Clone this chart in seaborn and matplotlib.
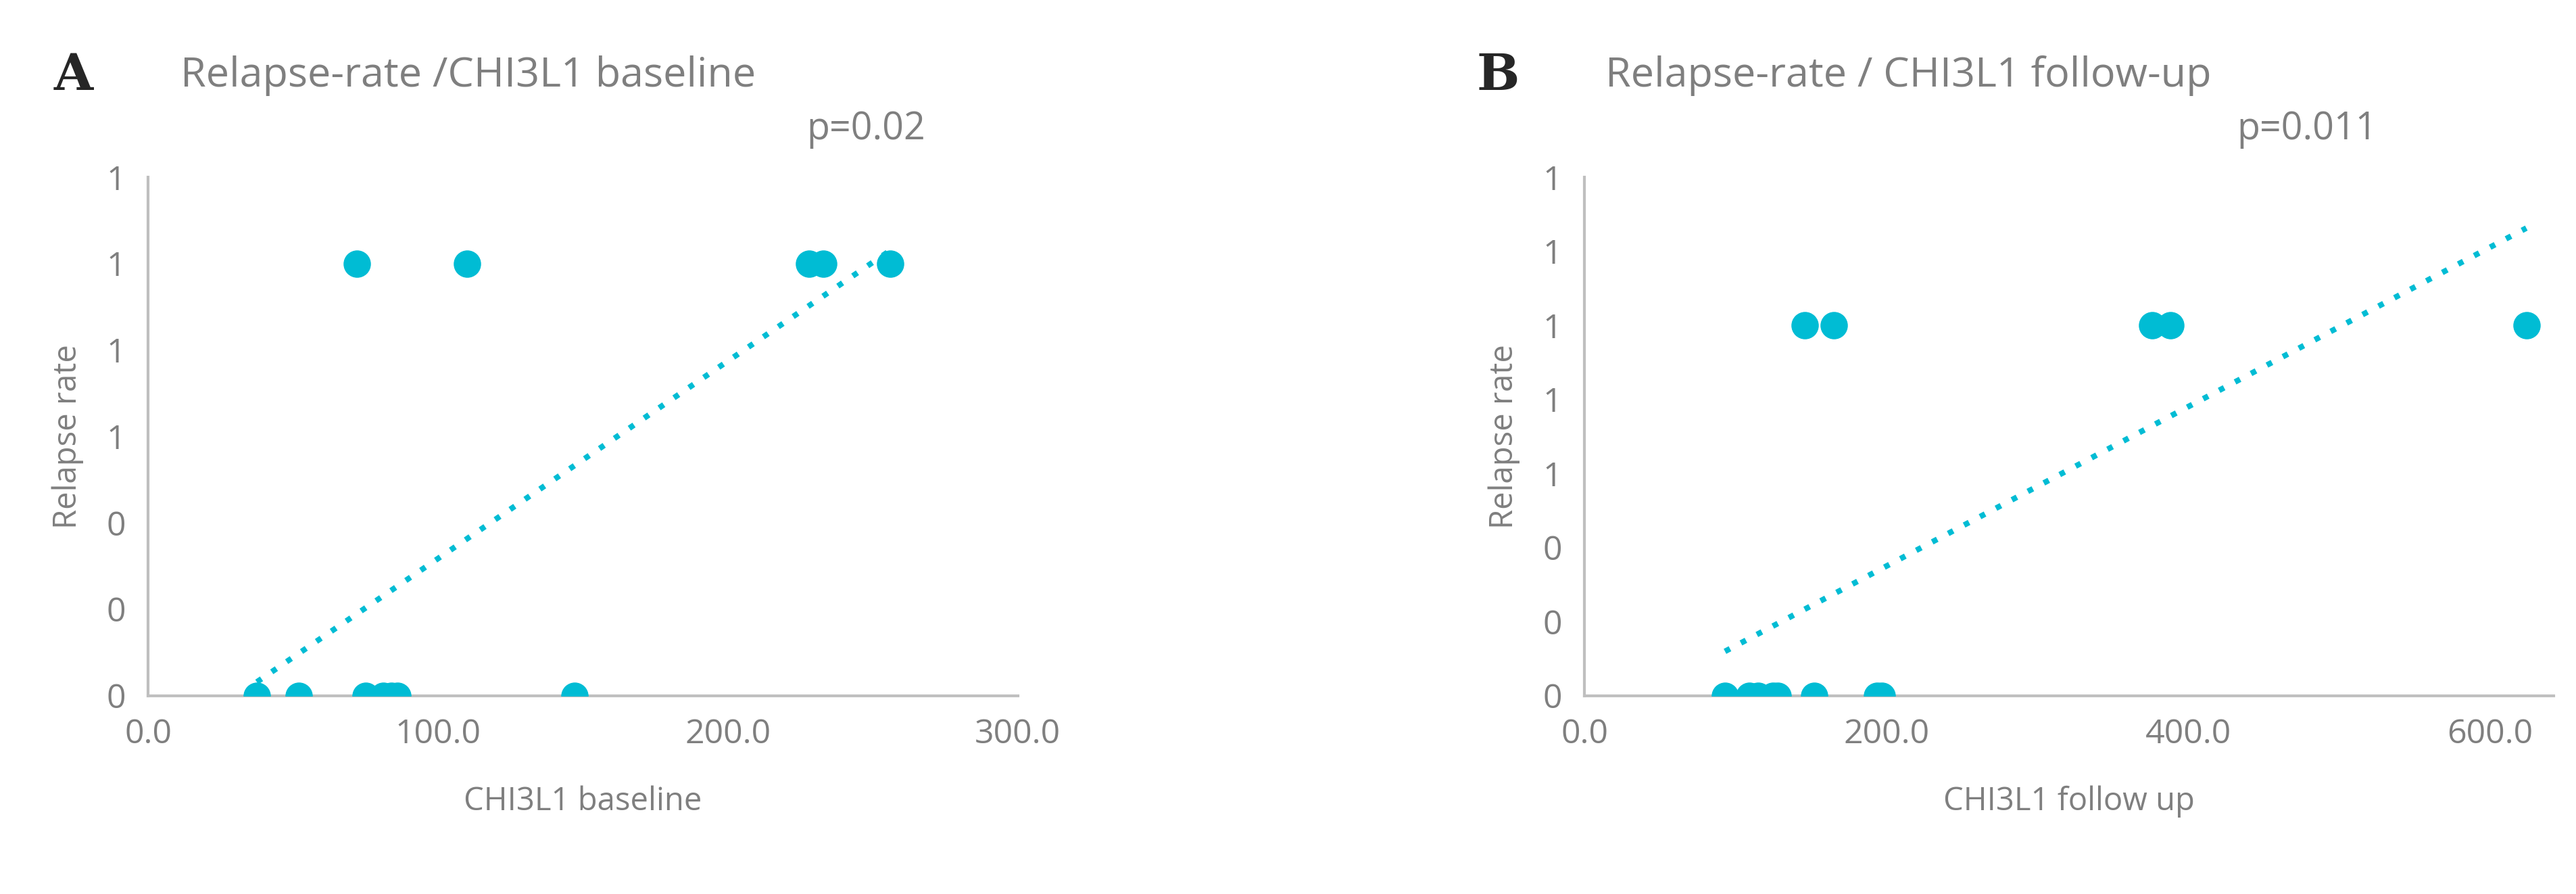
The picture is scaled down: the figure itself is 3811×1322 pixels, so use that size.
import numpy as np
import pandas as pd
import matplotlib
matplotlib.use("Agg")
import matplotlib.pyplot as plt
import seaborn as sns

sns.set_theme(style="white")
plt.rcParams['font.family'] = ['Open Sans', 'DejaVu Sans']

# Panel A data
a_x = [37.5, 52, 72, 75, 81, 84, 86, 110, 147, 228, 233, 256]
a_y = [0, 0, 1, 0, 0, 0, 0, 1, 0, 1, 1, 1]
# Panel B data
b_x = [93, 109, 115, 125, 128, 146, 152, 165, 194, 197, 376, 388, 624]
b_y = [0, 0, 0, 0, 0, 1, 0, 1, 0, 0, 1, 1, 1]

a_xticks = [0, 100, 200, 300]
a_yticks = [0, 0.2, 0.4, 0.6, 0.8, 1.0, 1.2]
b_xticks = [0, 200, 400, 600]
b_yticks = [0, 0.2, 0.4, 0.6, 0.8, 1.0, 1.2, 1.4]

GREY = '#7f7f7f'
SPINE = '#bfbfbf'
DOT = '#00BCD4'

fig = plt.figure(figsize=(38.12, 13.22), dpi=100)
axA = fig.add_axes([0.0575, 0.222, 0.3375, 0.58])
axB = fig.add_axes([0.615, 0.222, 0.376, 0.58])

def panel(ax, x, y, xticks, yticks, xlim, xlabel):
    df = pd.DataFrame({'x': x, 'y': y})
    sns.scatterplot(data=df, x='x', y='y', ax=ax, s=850, color=DOT, edgecolor=DOT, linewidth=0, zorder=3)
    m, c = np.polyfit(df['x'], df['y'], 1)
    xs = np.array([min(x), max(x)])
    ax.plot(xs, m * xs + c, linestyle=(0, (1, 2.2)), color=DOT, linewidth=6, zorder=2)
    ax.set_xlim(*xlim)
    ax.set_ylim(0, yticks[-1])
    ax.set_xticks(xticks)
    ax.set_xticklabels([f"{t:.1f}" for t in xticks])
    ax.set_yticks(yticks)
    ax.set_yticklabels([f"{t:.0f}" for t in yticks])
    ax.tick_params(colors=GREY, labelsize=36, length=0, pad=24)
    for s in ['top', 'right']:
        ax.spines[s].set_visible(False)
    for s in ['left', 'bottom']:
        ax.spines[s].set_color(SPINE)
        ax.spines[s].set_linewidth(3)
    ax.set_xlabel(xlabel, color=GREY, fontsize=34, labelpad=36)
    ax.set_ylabel('Relapse rate', color=GREY, fontsize=34, labelpad=24)

panel(axA, a_x, a_y, a_xticks, a_yticks, (0, 300), 'CHI3L1 baseline')
panel(axB, b_x, b_y, b_xticks, b_yticks, (0, 642), 'CHI3L1 follow up')

fig.text(0.021, 0.915, 'A', fontsize=54, fontweight='bold', family='DejaVu Serif', va='center')
fig.text(0.070, 0.915, 'Relapse-rate /CHI3L1 baseline', fontsize=44, color=GREY, va='center')
fig.text(0.573, 0.915, 'B', fontsize=54, fontweight='bold', family='DejaVu Serif', va='center')
fig.text(0.623, 0.915, 'Relapse-rate / CHI3L1 follow-up', fontsize=44, color=GREY, va='center')
fig.text(0.313, 0.855, 'p=0.02', fontsize=40, color=GREY, va='center')
fig.text(0.868, 0.855, 'p=0.011', fontsize=40, color=GREY, va='center')

fig.savefig('out.png', dpi=100)
